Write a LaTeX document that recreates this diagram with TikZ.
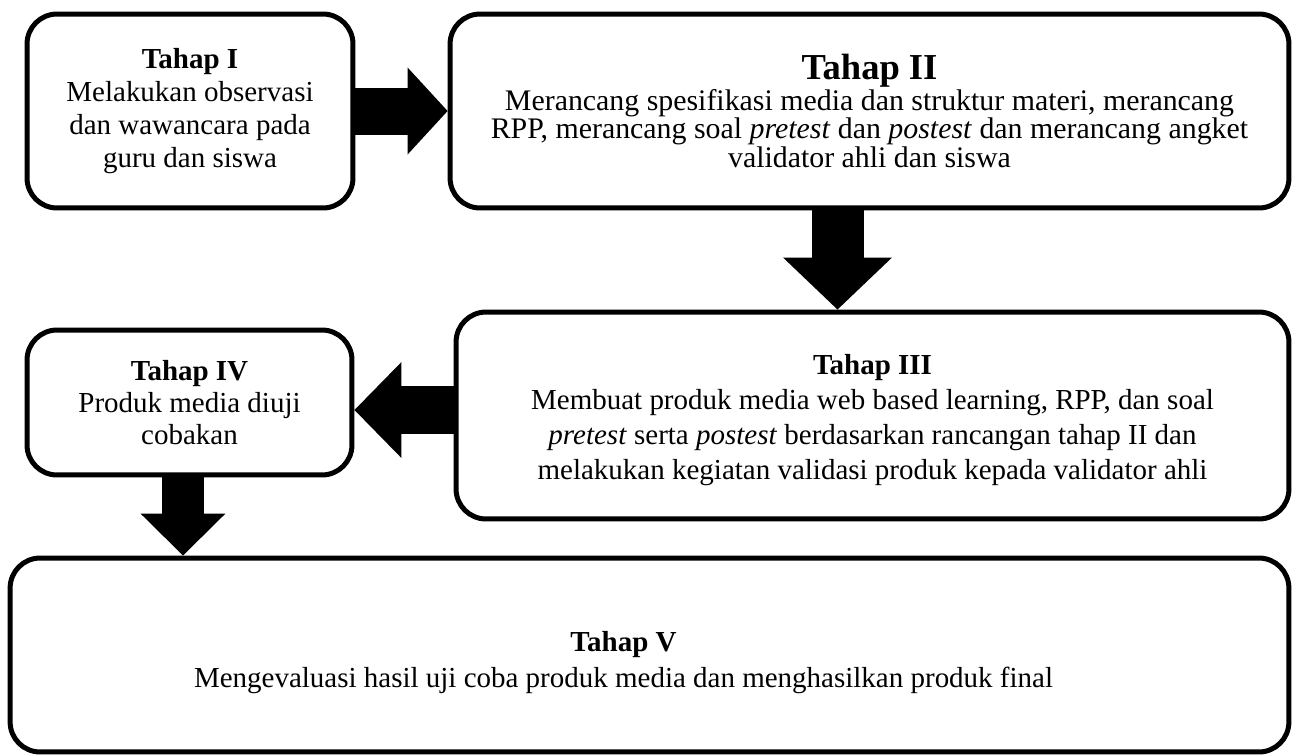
\documentclass[tikz,border=0pt]{standalone}
\usepackage{fontspec}
\setmainfont{Liberation Serif}
\usepackage{tikz}
\usetikzlibrary{arrows.meta, positioning, calc}

\begin{document}
\begin{tikzpicture}[
    x=0.02cm, y=-0.02cm,
    font=\fontsize{16.5}{18.7}\selectfont,
    tahap/.style={draw, line width=0.1cm, rounded corners=0.6cm, align=center, inner sep=0pt},
    fat/.style n args={3}{line width=#1, -{Triangle[length=#2, width=#3, line width=0pt]}}
]
\useasboundingbox (0,0) rectangle (1298,755);

% ---- boxes ----
\node[tahap, minimum width=6.52cm, minimum height=3.88cm] (t1) at (190,111)
    {\textbf{Tahap I}\\Melakukan observasi\\dan wawancara pada\\guru dan siswa};
\node[tahap, minimum width=16.78cm, minimum height=3.88cm, font=\fontsize{17}{16.2}\selectfont] (t2) at (869.5,111)
    {{\fontsize{20.8}{16.2}\selectfont\bfseries Tahap II}\\
     Merancang spesifikasi media dan struktur materi, merancang\\
     RPP, merancang soal \textit{pretest} dan \textit{postest} dan merancang angket\\
     validator ahli dan siswa};
\node[tahap, minimum width=16.66cm, minimum height=4.14cm, font=\fontsize{16.5}{19.9}\selectfont] (t3) at (872.5,415.5)
    {\rule{0pt}{17pt}\textbf{Tahap III}\\
     Membuat produk media web based learning, RPP, dan soal\\
     \textit{pretest} serta \textit{postest} berdasarkan rancangan tahap II dan\\
     melakukan kegiatan validasi produk kepada validator ahli};
\node[tahap, minimum width=6.5cm, minimum height=2.9cm, font=\fontsize{16.5}{18}\selectfont] (t4) at (189.5,402.5)
    {\textbf{Tahap IV}\\Produk media diuji\\cobakan};
\node[tahap, minimum width=25.58cm, minimum height=3.88cm, font=\fontsize{16.5}{20.4}\selectfont] (t5) at (649.5,655)
    {\rule{0pt}{20.3pt}\textbf{Tahap V}\hspace*{1.04cm}\\
     Mengevaluasi hasil uji coba produk media dan menghasilkan produk final\hspace*{1.04cm}};

% ---- block arrows ----
\draw[fat={0.94cm}{0.8cm}{1.74cm}] (t1.east) -- (t2.west);

\coordinate (s23) at ($(t2.south)+(-32,0)$);
\draw[fat={1.04cm}{1.04cm}{2.18cm}] (s23) -- (s23 |- t3.north);

\coordinate (s34) at ($(t3.west |- t4.east)+(0,7.5)$);
\draw[fat={0.96cm}{0.94cm}{1.92cm}] (s34) -- (s34 -| t4.east);

\coordinate (s45) at ($(t4.south)+(-6.5,0)$);
\draw[fat={0.84cm}{0.84cm}{1.7cm}] (s45) -- (s45 |- t5.north);

\end{tikzpicture}
\end{document}
